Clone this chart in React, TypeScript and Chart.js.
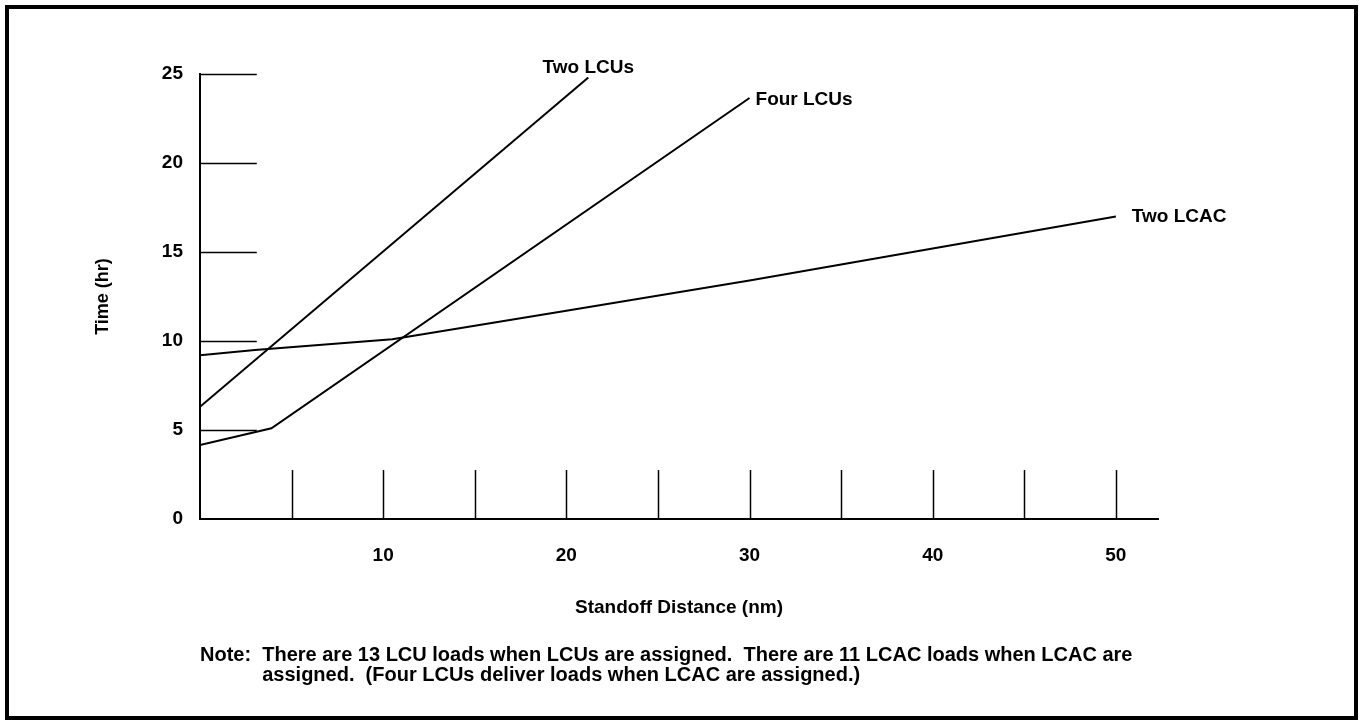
import React, { useEffect, useRef } from "react";
import { Chart, registerables } from "chart.js";

Chart.register(...registerables);

// ---- data ----
const seriesNames = ["Two LCUs", "Four LCUs", "Two LCAC"];
const twoLcuX = [0, 21.2];
const twoLcuY = [6.3, 24.8];
const fourLcuX = [0, 3.9, 30];
const fourLcuY = [4.15, 5.1, 23.65];
const twoLcacX = [0, 3, 10.5, 20, 30, 40, 50];
const twoLcacY = [9.2, 9.5, 10.1, 11.7, 13.4, 15.2, 17.0];

const xTickValues = [5, 10, 15, 20, 25, 30, 35, 40, 45, 50];
const xLabelValues = [10, 20, 30, 40, 50];
const yTickValues = [5, 10, 15, 20, 25];
const xMin = 0;
const xMax = 52.3;
const yMin = 0;
const yMax = 25;

const xTitle = "Standoff Distance (nm)";
const yTitle = "Time (hr)";
const notePrefix = "Note:  ";
const noteLines = [
  "There are 13 LCU loads when LCUs are assigned.  There are 11 LCAC loads when LCAC are",
  "assigned.  (Four LCUs deliver loads when LCAC are assigned.)",
];

const FONT = "'Liberation Sans', Arial, Helvetica, sans-serif";

const toPoints = (xs: number[], ys: number[]) => xs.map((x, i) => ({ x, y: ys[i] }));

// label placement styles per series: [dx, dy, align]
const labelStyles: Array<[number, number, CanvasTextAlign]> = [
  [0, -5, "center"],
  [6, 7, "left"],
  [16, 6, "left"],
];

const decorPlugin = {
  id: "decor",
  afterDatasetsDraw(chart: any) {
    const ctx = chart.ctx as CanvasRenderingContext2D;
    const xs = chart.scales.x;
    const ys = chart.scales.y;
    ctx.save();
    ctx.strokeStyle = "#000";
    ctx.lineWidth = 1.5;
    // x tick marks (upward)
    const y0 = ys.getPixelForValue(0);
    const markH = ys.getPixelForValue(0) - ys.getPixelForValue(2.75);
    xTickValues.forEach((v) => {
      const px = Math.round(xs.getPixelForValue(v)) + 0.5;
      ctx.beginPath();
      ctx.moveTo(px, y0);
      ctx.lineTo(px, y0 - markH);
      ctx.stroke();
    });
    // y tick marks (rightward)
    const x0 = xs.getPixelForValue(0);
    const markW = xs.getPixelForValue(3.1) - x0;
    yTickValues.forEach((v) => {
      const py = Math.round(ys.getPixelForValue(v)) + 0.5;
      ctx.beginPath();
      ctx.moveTo(x0, py);
      ctx.lineTo(x0 + markW, py);
      ctx.stroke();
    });
    // series labels
    ctx.fillStyle = "#000";
    ctx.font = `bold 19px ${FONT}`;
    ctx.textBaseline = "alphabetic";
    chart.data.datasets.forEach((ds: any, i: number) => {
      const last = ds.data[ds.data.length - 1];
      const px = xs.getPixelForValue(last.x);
      const py = ys.getPixelForValue(last.y);
      const [dx, dy, al] = labelStyles[i];
      ctx.textAlign = al;
      ctx.fillText(ds.label, px + dx, py + dy);
    });
    // note
    ctx.font = `bold 20px ${FONT}`;
    ctx.textAlign = "left";
    const indent = ctx.measureText(notePrefix).width;
    ctx.fillText(notePrefix + noteLines[0], 200, 661);
    ctx.fillText(noteLines[1], 200 + indent, 681);
    // frame
    ctx.lineWidth = 4;
    ctx.strokeRect(7, 7, 1349, 711);
    ctx.restore();
  },
};

export default function App() {
  const ref = useRef<HTMLCanvasElement | null>(null);
  useEffect(() => {
    const prevMargin = document.body.style.margin;
    document.body.style.margin = "0";
    const canvas = ref.current!;
    const chart = new Chart(canvas, {
      type: "line",
      data: {
        datasets: [
          { label: seriesNames[0], data: toPoints(twoLcuX, twoLcuY) },
          { label: seriesNames[1], data: toPoints(fourLcuX, fourLcuY) },
          { label: seriesNames[2], data: toPoints(twoLcacX, twoLcacY) },
        ].map((d) => ({
          ...d,
          borderColor: "#000",
          backgroundColor: "#000",
          borderWidth: 2,
          pointRadius: 0,
          tension: 0,
          fill: false,
        })),
      },
      options: {
        responsive: false,
        animation: false,
        events: [],
        layout: { padding: { left: 0, top: 74, right: 207, bottom: 0 } },
        plugins: { legend: { display: false }, tooltip: { enabled: false }, title: { display: false } },
        scales: {
          x: {
            type: "linear",
            min: xMin,
            max: xMax,
            grid: { display: false, drawTicks: false },
            border: { display: true, color: "#000", width: 2 },
            ticks: {
              stepSize: 5,
              includeBounds: false,
              autoSkip: false,
              maxRotation: 0,
              padding: 25,
              color: "#000",
              font: { family: FONT, size: 19, weight: "bold" },
              callback: (v: any) => (xLabelValues.includes(Number(v)) ? String(v) : ""),
            },
            title: {
              display: true,
              text: xTitle,
              color: "#000",
              font: { family: FONT, size: 19, weight: "bold" },
              padding: { top: 0, bottom: 102 },
            },
            afterFit: (s: any) => {
              s.height = 721 - 519;
            },
          },
          y: {
            type: "linear",
            min: yMin,
            max: yMax,
            grid: { display: false, drawTicks: false },
            border: { display: true, color: "#000", width: 2 },
            ticks: {
              stepSize: 5,
              padding: 17,
              color: "#000",
              font: { family: FONT, size: 19, weight: "bold" },
            },
            title: {
              display: true,
              text: yTitle,
              color: "#000",
              font: { family: FONT, size: 18, weight: "bold" },
              padding: { top: 92, bottom: 0 },
            },
            afterFit: (s: any) => {
              s.width = 200;
            },
          },
        },
      },
      plugins: [decorPlugin],
    } as any);
    return () => {
      chart.destroy();
      document.body.style.margin = prevMargin;
    };
  }, []);
  return (
    <div style={{ position: "absolute", left: 0, top: 0, width: 1365, height: 721, background: "#fff" }}>
      <canvas ref={ref} width={1365} height={721} style={{ display: "block" }} />
    </div>
  );
}
